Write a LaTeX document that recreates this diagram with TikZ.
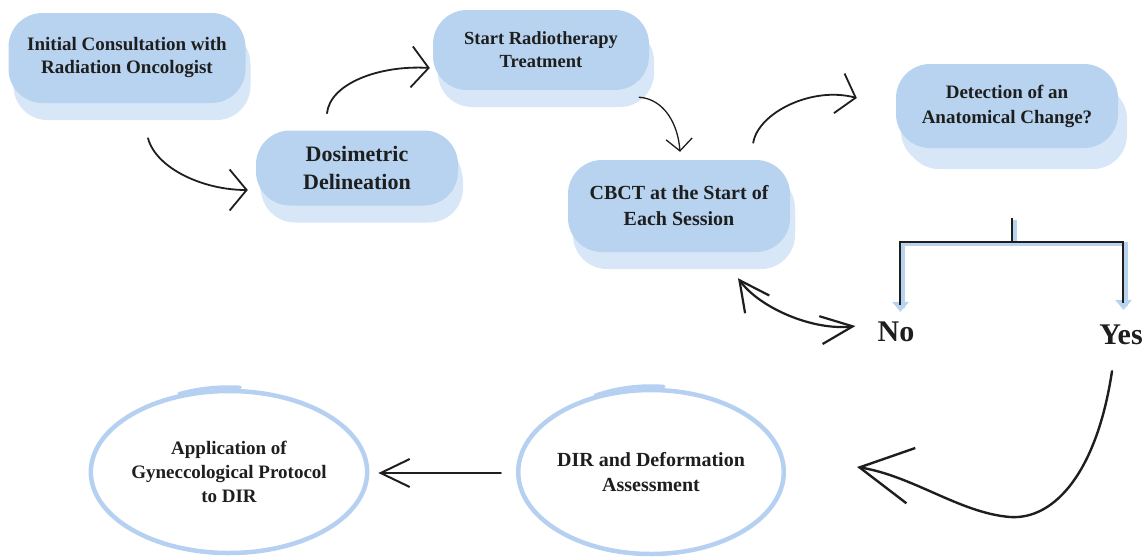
\documentclass[tikz,border=0pt]{standalone}
\usepackage{fontspec}
\setmainfont{Liberation Serif}
\usetikzlibrary{arrows.meta,positioning,calc,shapes.geometric,shadows}
\definecolor{ink}{HTML}{1E1E1E}
\definecolor{blobmain}{HTML}{B7D3EF}
\definecolor{blobpale}{HTML}{D7E7F7}
\definecolor{ringblue}{HTML}{B5D0F0}
\tikzset{
  every node/.style={text=ink},
  blob/.style={fill=blobmain,rounded corners=34pt,align=center,inner sep=0,
    drop shadow={shadow xshift=5pt,shadow yshift=-17pt,fill=blobpale,opacity=1}},
  circ/.style={ellipse,draw=ringblue,line width=4.5pt,align=center,inner sep=0},
  overlap/.style={draw=ringblue,line width=3.5pt,line cap=round},
  sketch/.style={line width=1.8pt,draw=ink,line cap=round,-{Straight Barb[length=17pt,width=41pt]}},
  thinsketch/.style={line width=1.3pt,draw=ink,line cap=round,-{Straight Barb[length=12pt,width=26pt]}},
  twoway/.style={line width=2.2pt,draw=ink,line cap=round,
    {Straight Barb[length=30pt,width=30pt]}-{Straight Barb[length=32pt,width=28pt]}},
  bigsketch/.style={line width=2.4pt,draw=ink,line cap=round,-{Straight Barb[length=52pt,width=56pt]}},
  longsketch/.style={line width=2pt,draw=ink,line cap=round,-{Straight Barb[length=29pt,width=28pt]}},
  forkshade/.style={draw=blobmain,line width=4pt,transform canvas={shift={(3pt,-2pt)}}},
  forkline/.style={draw=ink,line width=2.4pt},
  answer/.style={font=\bfseries\fontsize{30}{34}\selectfont,inner sep=2pt}
}

\begin{document}
\begin{tikzpicture}[x=1pt,y=-1pt]
  \path[use as bounding box] (0,0) rectangle (1148,557);

  \node[blob,minimum width=237pt,minimum height=90pt,font=\bfseries\fontsize{19}{23}\selectfont] (init) at (127,58) {Initial Consultation with\\Radiation Oncologist};
  \node[blob,minimum width=202pt,minimum height=75pt,font=\bfseries\fontsize{22}{28}\selectfont,
    drop shadow={shadow xshift=4pt,shadow yshift=-13pt,fill=blobpale,opacity=1}] (dosim) at (357,168) {Dosimetric\\Delineation};
  \node[blob,minimum width=216pt,minimum height=80pt,font=\bfseries\fontsize{18.5}{23}\selectfont] (start) at (541,50) {Start Radiotherapy\\Treatment};
  \node[blob,minimum width=222pt,minimum height=92pt,font=\bfseries\fontsize{20}{26}\selectfont,
    drop shadow={shadow xshift=5pt,shadow yshift=-14pt,fill=blobpale,opacity=1}] (cbct) at (679,206) {CBCT at the Start of\\Each Session};
  \node[blob,minimum width=222pt,minimum height=84pt,font=\bfseries\fontsize{19}{25}\selectfont,
    drop shadow={shadow xshift=9pt,shadow yshift=-21pt,fill=blobpale,opacity=1}] (detect) at (1007,106) {Detection of an\\Anatomical Change?};

  \node[answer] (no) at (896,332) {No};
  \node[answer] (yes) at (1121,335) {Yes};

  \node[circ,minimum width=246pt,minimum height=164pt,font=\bfseries\fontsize{20}{25}\selectfont] (dir) at (651,472) {DIR and Deformation\\Assessment};
  \node[circ,minimum width=256pt,minimum height=162pt,font=\bfseries\fontsize{19}{24}\selectfont] (app) at (229,472) {Application of\\Gyneccological Protocol\\to DIR};
  \draw[overlap] ($(dir.center)+(243:123 and 86)$) arc[start angle=243,end angle=276,x radius=123,y radius=86];
  \draw[overlap] ($(app.center)+(247:128 and 85)$) arc[start angle=247,end angle=275,x radius=128,y radius=85];

  % flow along the top row
  \draw[sketch] ($(init.south)+(21,35)$) .. controls +(8,30) and +(-45,0) .. ($(dosim.west)+(-8,22)$);
  \draw[sketch] ($(dosim.north)+(-30,-17)$) .. controls +(3,-30) and +(-50,-3) .. ($(start.west)+(-3,18)$);
  \draw[thinsketch] ($(start.south east)+(-10,7)$) .. controls +(25,2) and +(-2,-28) .. ($(cbct.north)+(1,-8)$);
  \draw[sketch] ($(cbct.north east)+(-37,-17)$) .. controls +(5,-30) and +(-45,-12) .. ($(detect.west)+(-39,-8)$);

  % decision fork
  \coordinate (fork) at ($(detect.south)+(5,70)$);
  \draw[forkshade] (fork) -- ++(0,24) -| ($(no.north)+(4,-14)$);
  \draw[forkshade] (fork) ++(0,24) -| ($(yes.north)+(2,-19)$);
  \fill[blobmain] ($(no.north)+(-4,-18)$) -- ++(17,0) -- ++(-8.5,10) -- cycle;
  \fill[blobmain] ($(yes.north)+(-6,-23)$) -- ++(17,0) -- ++(-8.5,10) -- cycle;
  \draw[forkline] (fork) -- ++(0,24) -| ($(no.north)+(4,-15)$);
  \draw[forkline] (fork) ++(0,24) -| ($(yes.north)+(2,-20)$);

  \draw[twoway] ($(cbct.south)+(59,26)$) .. controls +(22,30) and +(-42,5) .. ($(no.west)+(-20,-6)$);

  % lower row
  \coordinate (dip) at (1010,517);
  \draw[bigsketch] ($(yes.south)+(-9,24)$) .. controls +(-15,100) and +(45,3) .. (dip)
    .. controls +(-50,-4) and +(56,9) .. ($(dir.east)+(71,-5)$);
  \draw[longsketch] ($(dir.west)+(-15,1)$) -- ($(app.east)+(9,1)$);
\end{tikzpicture}
\end{document}
